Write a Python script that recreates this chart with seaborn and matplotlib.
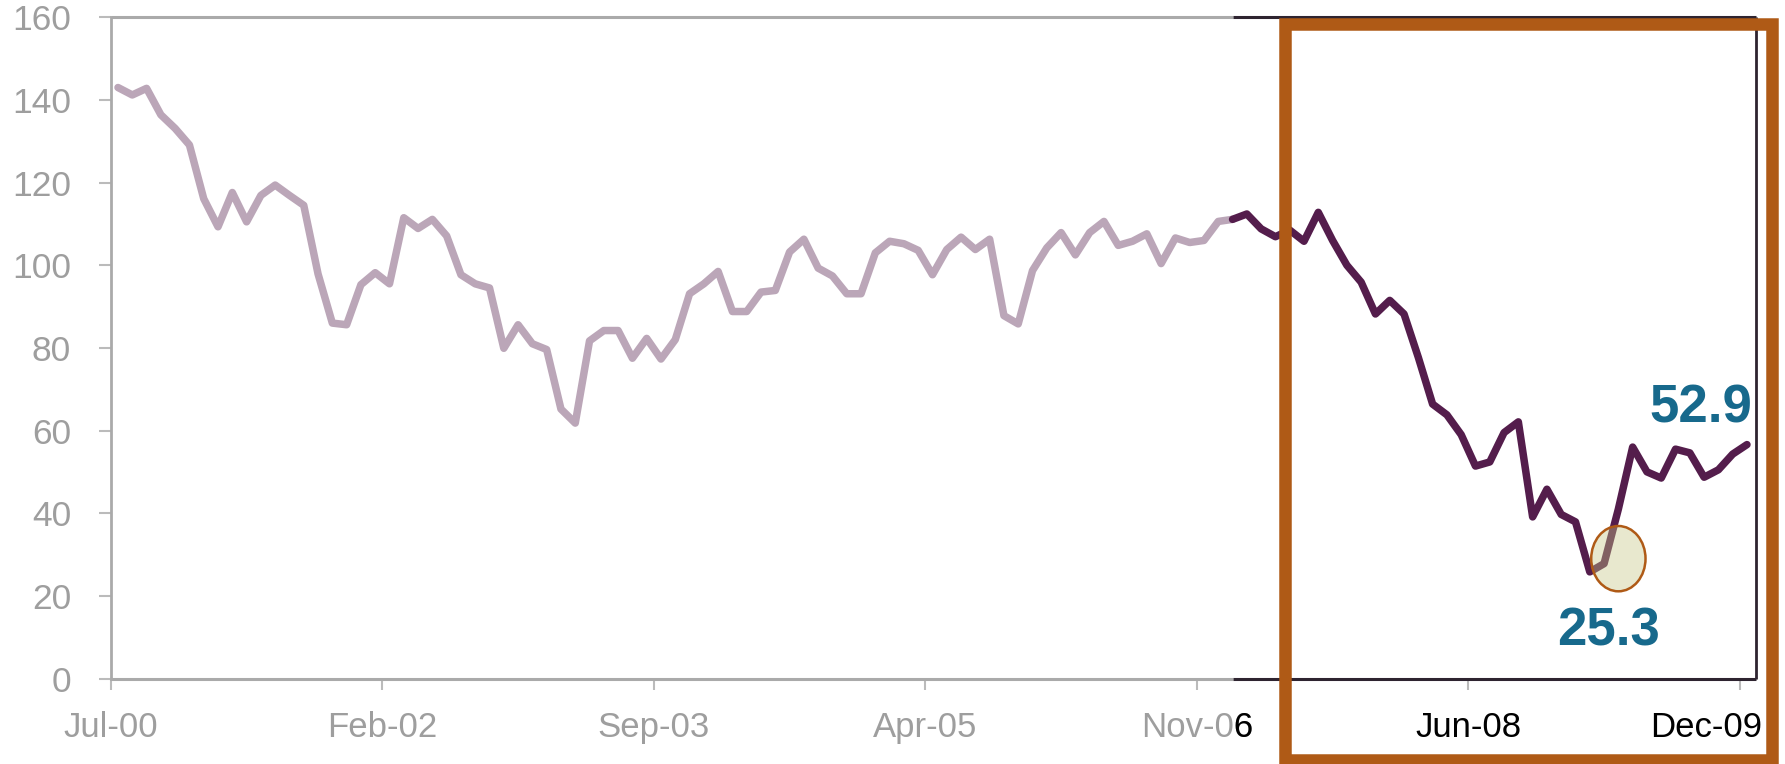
import numpy as np
import pandas as pd
import matplotlib
matplotlib.use("Agg")
import matplotlib.pyplot as plt
from matplotlib.patches import Rectangle, Ellipse
import seaborn as sns

# monthly index values, Jul-00 .. Dec-09
values = [
    143.0, 141.2, 142.8, 136.4, 133.1, 129.1, 116.1, 109.3, 117.6, 110.5,
    116.9, 119.4, 116.9, 114.5, 97.9, 86.0, 85.6, 95.3, 98.2, 95.5,
    111.5, 108.9, 111.1, 107.1, 97.7, 95.5, 94.5, 79.9, 85.6, 81.0,
    79.6, 65.2, 61.8, 81.7, 84.2, 84.2, 77.5, 82.3, 77.3, 82.0,
    93.1, 95.5, 98.5, 88.8, 88.8, 93.5, 93.9, 103.2, 106.3, 99.3,
    97.4, 93.1, 93.1, 103.0, 105.8, 105.2, 103.6, 97.7, 103.8, 106.8,
    103.8, 106.3, 87.8, 85.8, 98.7, 104.2, 107.9, 102.5, 107.9, 110.6,
    104.8, 105.8, 107.6, 100.4, 106.6, 105.5, 106.0, 110.6, 111.1, 112.4,
    108.8, 106.9, 108.5, 105.8, 112.8, 106.0, 100.0, 95.9, 88.2, 91.5,
    88.2, 77.7, 66.4, 63.8, 59.0, 51.4, 52.4, 59.5, 62.1, 39.1,
    45.8, 39.7, 37.9, 25.8, 27.8, 41.0, 56.0, 50.0, 48.5, 55.5,
    54.6, 48.7, 50.5, 54.3, 56.6,
]
split_at = 78          # first month of the highlighted (dark) period
low_idx = 103
tick_idx = [0, 19, 38, 57, 76, 95, 114]
tick_labels = ["Jul-00", "Feb-02", "Sep-03", "Apr-05", "Nov-06", "Jun-08", "Dec-09"]
y_ticks = [0, 20, 40, 60, 80, 100, 120, 140, 160]
low_label = "25.3"
last_label = "52.9"

light = "#BBA6B8"
dark = "#541D4C"
grey = "#AAAAAA"
label_grey = "#9E9E9E"
spine_dark = "#2E2430"
orange = "#AF5A16"
blue = "#17698C"

df = pd.DataFrame({"pos": np.arange(len(values)) + 0.5, "val": values})
df_light = df.iloc[:split_at + 1]
df_dark = df.iloc[split_at:]

sns.set_style("white")
plt.rcParams["font.family"] = ["Liberation Sans", "DejaVu Sans"]

fig = plt.figure(figsize=(17.85, 7.64), dpi=100)
ax = fig.add_axes([0.0621, 0.1119, 0.9214, 0.8655])

sns.lineplot(data=df_light, x="pos", y="val", color=light, linewidth=5.4, ax=ax)
sns.lineplot(data=df_dark, x="pos", y="val", color=dark, linewidth=5.4, ax=ax)

x_max = 115.1
ax.set_xlim(0, x_max)
ax.set_ylim(0, 160)
ax.set_xlabel("")
ax.set_ylabel("")

ax.set_yticks(y_ticks)
ax.set_xticks(tick_idx)
# the last label is placed by hand so it stays inside the frame
ax.set_xticklabels(tick_labels[:-1] + [""])
ax.tick_params(axis="y", direction="out", length=8.6, width=1.5, color="#BBBBBB",
               labelsize=25.5, labelcolor=label_grey, pad=20, left=True)
ax.tick_params(axis="x", direction="out", length=7.7, width=1.5, color="#BBBBBB",
               labelsize=25, labelcolor=label_grey, pad=16, bottom=True)

# spines: grey for the early period, dark for the highlighted one
split_x = split_at + 0.5
for side in ["top", "bottom", "right"]:
    ax.spines[side].set_visible(False)
ax.spines["left"].set_color(grey)
ax.spines["left"].set_linewidth(2)
ax.hlines([0, 160], 0, split_x, colors=grey, linewidth=2.2, clip_on=False, zorder=3)
ax.hlines([0, 160], split_x, x_max, colors=spine_dark, linewidth=2.2, clip_on=False, zorder=3)
ax.vlines(x_max, 0, 160, colors=spine_dark, linewidth=2, clip_on=False, zorder=3)

for i, lab in enumerate(ax.get_xticklabels()):
    if tick_idx[i] > split_x:
        lab.set_color("black")
        ax.xaxis.get_major_ticks()[i].tick1line.set_color(spine_dark)

ax.annotate(tick_labels[-1], xy=(tick_idx[-1], 0), xycoords=ax.get_xaxis_transform(),
            xytext=(16, -23.7), textcoords="offset points", ha="right", va="top",
            fontsize=25, color="black")

# black overlay for the part of a label that sits in the dark period
fig.canvas.draw()
split_px = ax.transData.transform((split_x, 0))[0]
for i, lab in enumerate(ax.get_xticklabels()):
    if not lab.get_text():
        continue
    bb = lab.get_window_extent()
    if bb.x0 < split_px < bb.x1:
        t = ax.text(*lab.get_position(), lab.get_text(), transform=lab.get_transform(),
                    ha=lab.get_ha(), va=lab.get_va(), fontsize=25, color="black",
                    clip_on=True)
        t.set_clip_path(Rectangle((split_px, 0), 2000, 2000, transform=None))

# highlight circle around the trough
ell = Ellipse((df["pos"][low_idx] + 2.0, 29), 3.8, 15.8,
              facecolor=(0.78, 0.78, 0.52, 0.4), edgecolor=orange, linewidth=1.8, zorder=5)
ax.add_patch(ell)

ax.text(df["pos"][low_idx] + 1.3, 8.1, low_label, ha="center", va="baseline",
        fontsize=38, fontweight="bold", color=blue)
ax.text(df["pos"].iloc[-1] - 3.2, 61.9, last_label, ha="center", va="baseline",
        fontsize=38, fontweight="bold", color=blue)

# orange frame around the recent period
frame = Rectangle((1285 / 1785, 4 / 764), (1772 - 1285) / 1785, (739.7 - 4) / 764,
                  transform=fig.transFigure, fill=False, edgecolor=orange,
                  linewidth=9, joinstyle="miter", zorder=10)
fig.add_artist(frame)

fig.savefig("out.png", dpi=100)
